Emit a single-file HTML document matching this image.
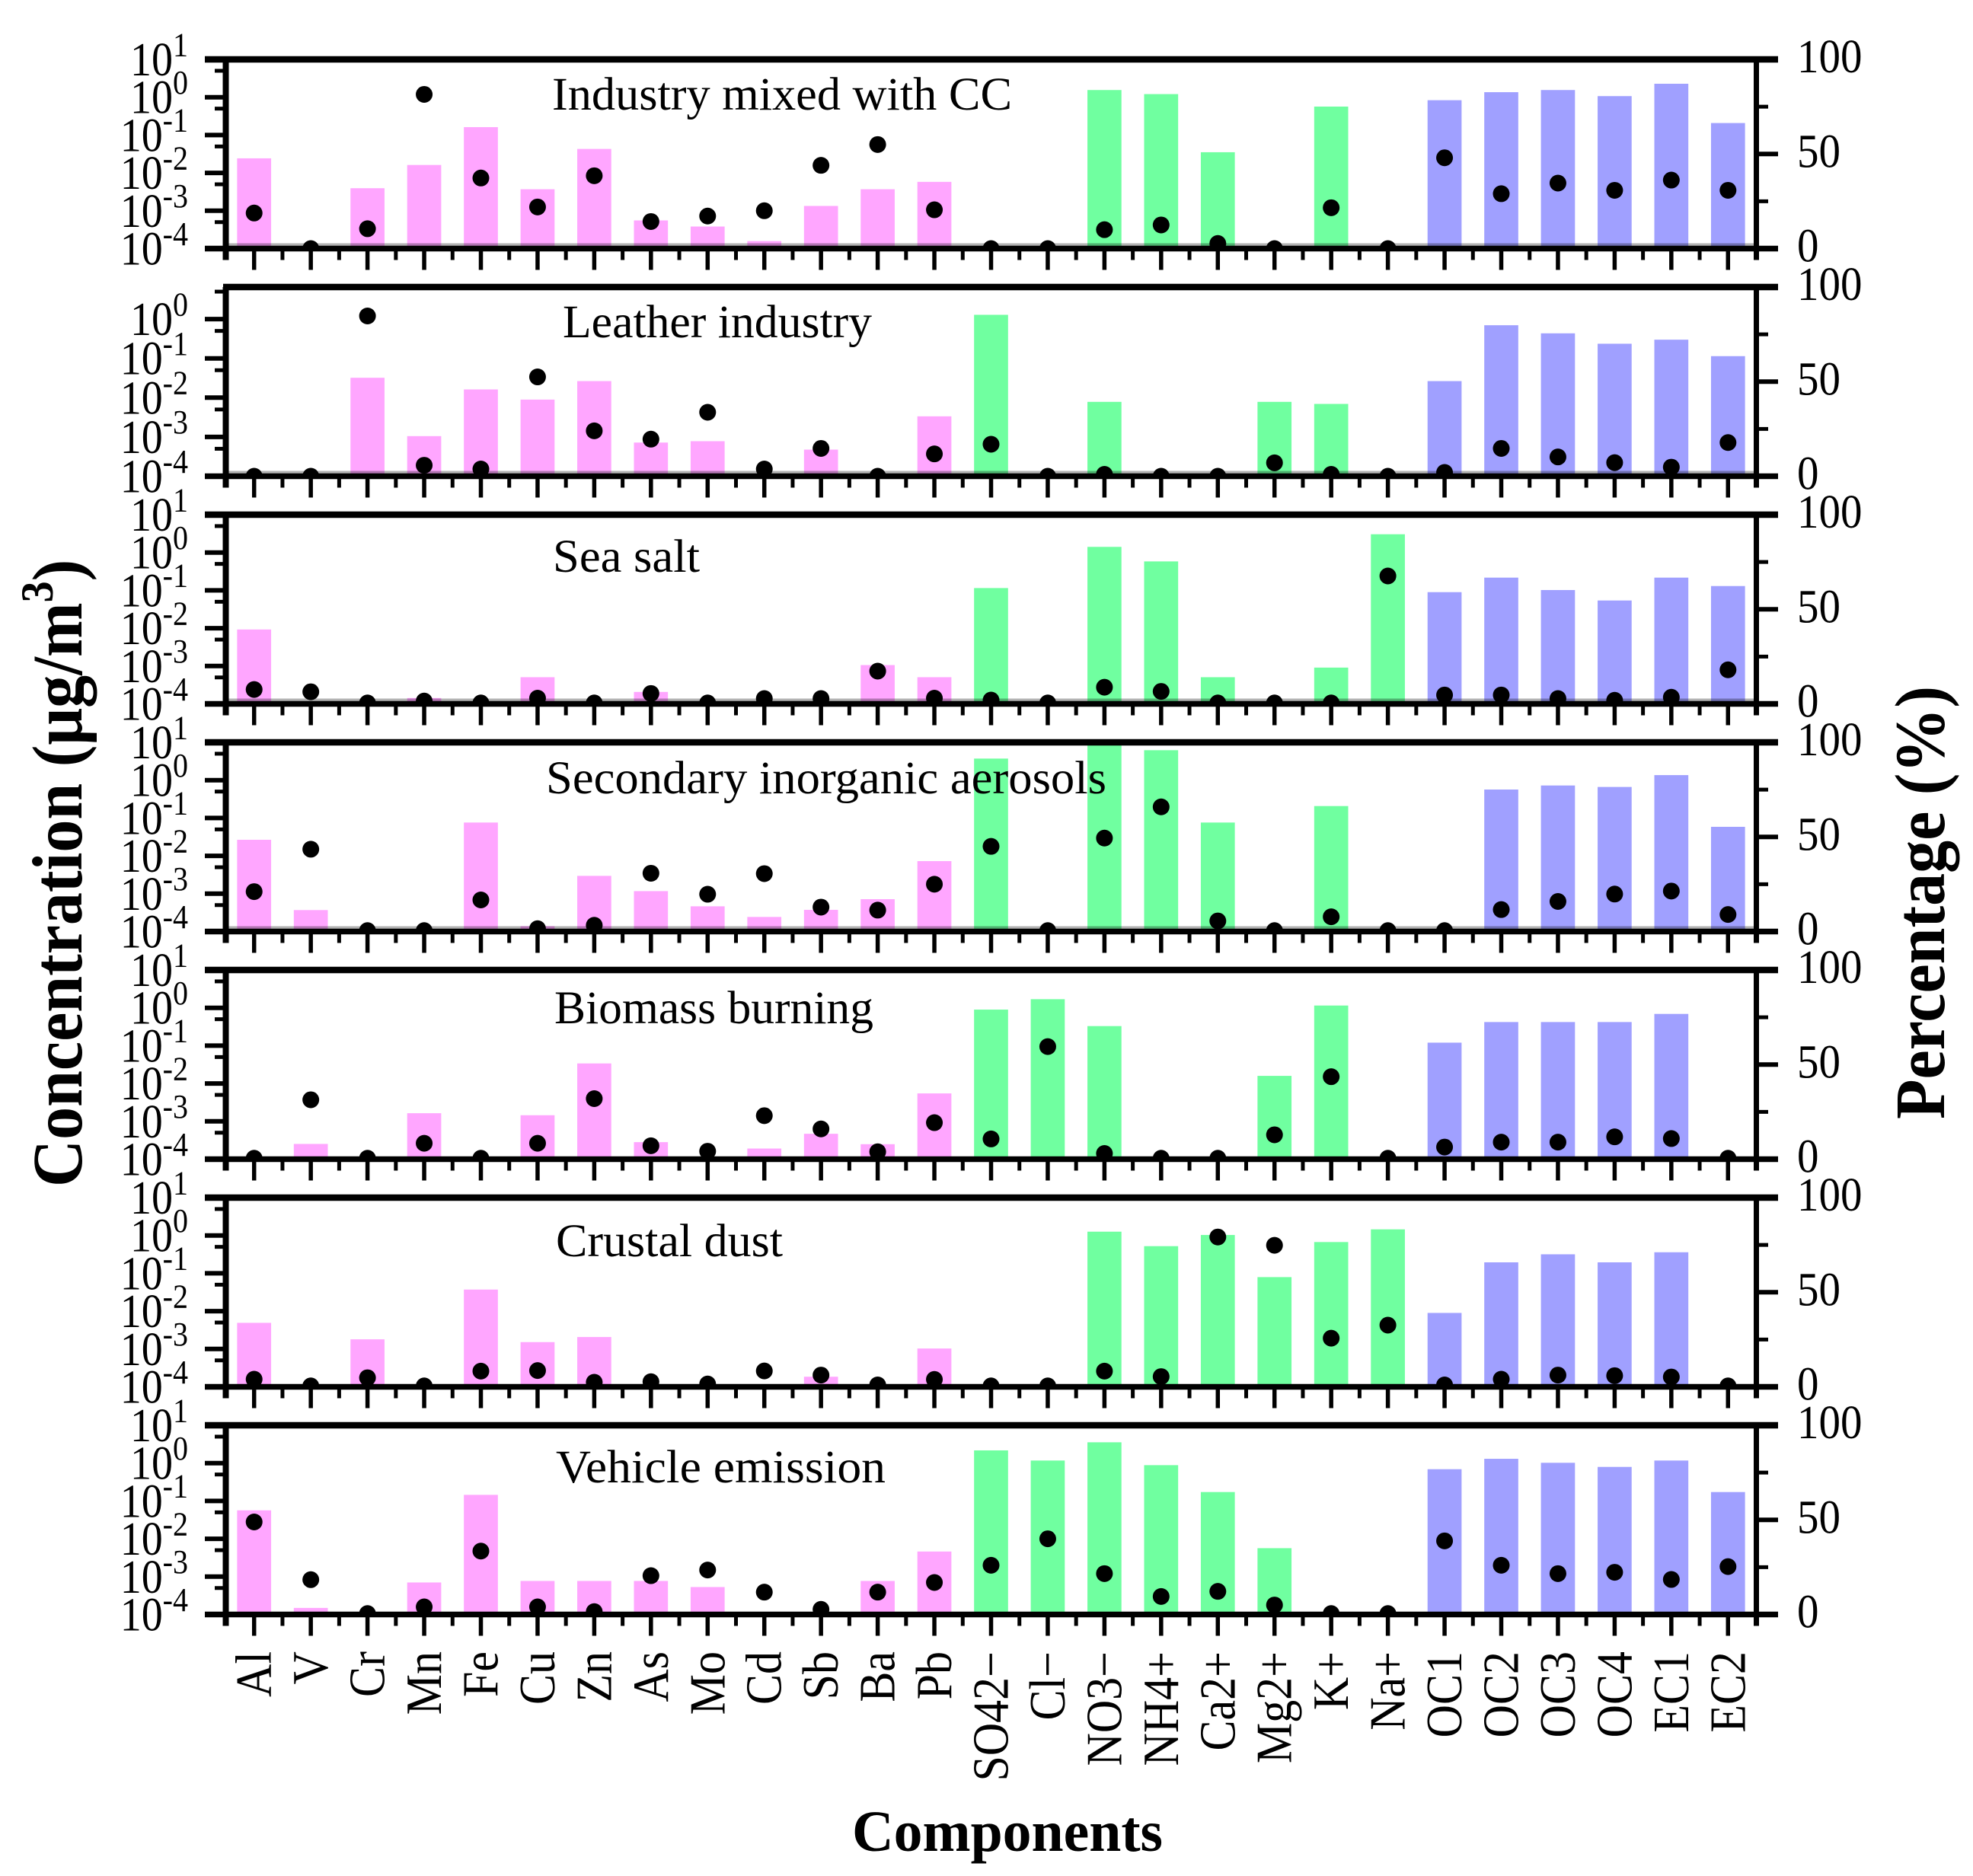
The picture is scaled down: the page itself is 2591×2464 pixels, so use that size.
<!DOCTYPE html>
<html lang="en">
<head>
<meta charset="utf-8">
<title>Source profiles: concentration and percentage by component</title>
<style>
html,body{margin:0;padding:0;background:#fff;}
svg{display:block;font-family:"Liberation Serif","DejaVu Serif",serif;}
text{fill:#000;}
</style>
</head>
<body>
<svg id="chart" xmlns="http://www.w3.org/2000/svg" width="2591" height="2464" viewBox="0 0 2591 2464">
<rect x="0" y="0" width="2591" height="2464" fill="#fff"/>
<g id="panels"></g>
<text x="725" y="144" font-size="61" textLength="604" lengthAdjust="spacingAndGlyphs">Industry mixed with CC</text>
<text x="739" y="443" font-size="61" textLength="406" lengthAdjust="spacingAndGlyphs">Leather industry</text>
<text x="726" y="751" font-size="61" textLength="193" lengthAdjust="spacingAndGlyphs">Sea salt</text>
<text x="717" y="1042" font-size="61" textLength="736" lengthAdjust="spacingAndGlyphs">Secondary inorganic aerosols</text>
<text x="728" y="1344" font-size="61" textLength="419" lengthAdjust="spacingAndGlyphs">Biomass burning</text>
<text x="730" y="1650" font-size="61" textLength="298" lengthAdjust="spacingAndGlyphs">Crustal dust</text>
<text x="730" y="1947" font-size="61" textLength="433" lengthAdjust="spacingAndGlyphs">Vehicle emission</text>
<text transform="translate(107,1559) rotate(-90) scale(1,1.08)" font-size="86" font-weight="bold">Concentration (μg/m<tspan font-size="56" dy="-35">3</tspan><tspan dy="35">)</tspan></text>
<text transform="translate(2553,1470) rotate(-90) scale(1,1.08)" font-size="86" font-weight="bold">Percentage (%)</text>
<text x="1119" y="2431" font-size="76" font-weight="bold" textLength="408" lengthAdjust="spacingAndGlyphs">Components</text>
</svg>
<script>
const categories = ["Al","V","Cr","Mn","Fe","Cu","Zn","As","Mo","Cd","Sb","Ba","Pb","SO42−","Cl−","NO3−","NH4+","Ca2+","Mg2+","K+","Na+","OC1","OC2","OC3","OC4","EC1","EC2"];
const groupEnd = [13, 21, 27];
const groupColors = ["#FFA6FF", "#70FFA0", "#A0A0FF"];

const concTickExps = [1, 0, -1, -2, -3, -4];
const concMinorExps = [0.699, -0.301, -1.301, -2.301, -3.301];
const pctTicks = [0, 50, 100];
const pctMinorTicks = [25, 75];
const axisMaxExp = [1, 0.816, 1, 1, 1, 1, 1];
const panelNames = ["industry","leather","sea-salt","secondary-inorganic","biomass","crustal-dust","vehicle"];

const industryConc = [0.0243,0,0.00394,0.0162,0.162,0.0037,0.043,0.000555,0.000383,0.000158,0.00134,0.0037,0.0058,0,0,1.55,1.21,0.0352,0,0.566,0,0.834,1.36,1.55,1.07,2.27,0.208];
const industryPct = [18.8,0,10.5,81.5,37.3,22,38.5,14.3,17.2,20,44,55,20.5,0,0,10,12.5,2.7,0,21.6,0,48,29,34.6,30.8,36.2,30.8];

const leatherConc = [0,0,0.0321,0.00105,0.0162,0.00893,0.0264,0.00072,0.00078,0,0.000476,0,0.00335,1.285,0,0.00782,0,0,0.00782,0.00693,0,0.0264,0.698,0.434,0.236,0.299,0.114];
const leatherPct = [0,0,84.7,5.8,3.8,52.5,24,19.6,33.8,3.8,14.7,0,11.8,16.9,0,1,0,0,7.1,1,0,2,14.7,10.2,7.2,4.8,17.8];

const seaSaltConc = [0.00925,0,0,0.000143,0,0.000507,0,0.000207,0,0,0,0.00106,0.000507,0.115,0,1.41,0.582,0.000507,0,0.00091,3.04,0.0897,0.217,0.102,0.054,0.217,0.13];
const seaSaltPct = [7.6,6.4,0.5,1.5,0.5,3,0.5,5.5,0.5,2.8,2.8,17.3,3,2,0.5,8.8,6.6,0.5,0.5,0.5,67.6,4.7,4.7,2.8,1.9,3.5,18];

const secondaryConc = [0.0266,0.000369,0,0,0.0759,0.000139,0.00296,0.00117,0.000464,0.000243,0.000374,0.000716,0.00726,3.72,0,10,6.2,0.0759,0,0.207,0,0,0.566,0.724,0.661,1.36,0.0585];
const secondaryPct = [21.1,43.5,0.5,0.5,16.7,1.5,3.3,30.8,19.7,30.6,12.9,11.3,25,45,0.5,49.4,65.9,5.6,0.5,7.8,0.5,0.5,11.6,15.9,19.8,21.4,9];

const biomassConc = [0,0.000253,0,0.00164,0,0.00145,0.0339,0.000282,0,0.000191,0.000469,0.000249,0.00547,0.897,1.69,0.329,0,0,0.0159,1.15,0,0.12,0.421,0.421,0.421,0.69,0];
const biomassPct = [0.5,31.4,0.5,8.4,0.5,8.4,32,7.1,4.2,23,16,3.9,19.3,10.7,59.5,3,0.5,0.5,12.9,43.6,0.5,6.4,9,9,11.8,10.9,0.5];

const crustalConc = [0.00491,0,0.0018,0,0.0372,0.00152,0.00207,0,0,0,0.000185,0,0.00103,0,0,1.26,0.522,1.03,0.0793,0.67,1.45,0.00897,0.195,0.318,0.195,0.36,0];
const crustalPct = [4,0.5,4.8,0.5,8.3,8.6,2.4,2.7,1.5,8.4,6.2,1,3.9,0.5,0.5,8.3,5.4,79.2,74.8,25.7,32.6,1,4,6.2,5.9,5.2,0.5];

const vehicleConc = [0.0565,0.000149,0,0.000701,0.145,0.000769,0.000769,0.000769,0.000531,0,0,0.000769,0.00461,2.17,1.17,3.55,0.883,0.172,0.00565,0,0,0.69,1.3,1.02,0.793,1.17,0.172];
const vehiclePct = [48.9,18.4,0.5,4,33.5,4,1.5,20.5,23.5,11.8,2.7,11.8,16.9,26,40,21.6,9.5,12.2,5,0.5,0.5,38.9,26,21.6,22.3,18.5,25.3];

const concSeries = [industryConc, leatherConc, seaSaltConc, secondaryConc, biomassConc, crustalConc, vehicleConc];
const pctSeries = [industryPct, leatherPct, seaSaltPct, secondaryPct, biomassPct, crustalPct, vehiclePct];

const NS = "http://www.w3.org/2000/svg";
const PLOT_LEFT = 296.5, PLOT_RIGHT = 2306.5, PANEL_TOP = 78, PANEL_STEP = 299, PANEL_H = 248.5;
const STEP = (PLOT_RIGHT - PLOT_LEFT) / categories.length;
const MIN_EXP = -4;

function make(tag, attrs, parent, content) {
  const el = document.createElementNS(NS, tag);
  for (const k in attrs) el.setAttribute(k, attrs[k]);
  if (content !== undefined) el.textContent = content;
  parent.appendChild(el);
  return el;
}
function panelTop(p) { return PANEL_TOP + PANEL_STEP * p; }
function panelBottom(p) { return panelTop(p) + PANEL_H; }
function xPos(i) { return PLOT_LEFT + STEP * (i + 0.5); }
function yLog(exp, p) { return panelBottom(p) - (exp - MIN_EXP) / (axisMaxExp[p] - MIN_EXP) * PANEL_H; }
function yConc(v, p) { return yLog(Math.log10(v), p); }
function yPct(v, p) { return panelBottom(p) - v / 100 * PANEL_H; }
function colorFor(i) { for (let g = 0; g < groupEnd.length; g++) { if (i < groupEnd[g]) return groupColors[g]; } return groupColors[groupColors.length - 1]; }

const root = document.getElementById("panels");

concSeries.forEach(function (conc, p) {
  const g = make("g", {}, root);
  
  
  const top = panelTop(p), bottom = panelBottom(p);

  const cp = make("clipPath", { id: "clip-" + p }, g);
  make("rect", { x: PLOT_LEFT, y: top, width: PLOT_RIGHT - PLOT_LEFT, height: PANEL_H }, cp);

  conc.forEach(function (v, i) {
    if (v <= Math.pow(10, MIN_EXP)) return;
    const y = Math.max(yConc(v, p), top);
    const bar = make("rect", { x: xPos(i) - STEP * 0.3, y: y, width: STEP * 0.6, height: bottom - y, fill: colorFor(i) }, g);
    
    
  });

  if (p < 4) {
    const shade = make("rect", { x: PLOT_LEFT, y: bottom - 7, width: PLOT_RIGHT - PLOT_LEFT, height: 4, fill: "#000", "fill-opacity": 0.3 }, g);
    
    
  }

  const dots = make("g", { "clip-path": "url(#clip-" + p + ")" }, g);
  
  
  pctSeries[p].forEach(function (v, i) {
    const dot = make("circle", { cx: xPos(i), cy: yPct(v, p), r: 11, fill: "#000" }, dots);
    
    
  });

  const axes = make("g", { stroke: "#000", fill: "none" }, g);
  
  

  const topX = axisMaxExp[p] >= 1 ? 269 : 293;
  make("line", { x1: topX, x2: 2335, y1: top, y2: top, "stroke-width": 8.5 }, axes);
  make("line", { x1: 269, x2: 2335, y1: bottom, y2: bottom, "stroke-width": 7.5 }, axes);
  make("line", { x1: PLOT_LEFT, x2: PLOT_LEFT, y1: top, y2: bottom + 15, "stroke-width": 8 }, axes);
  make("line", { x1: PLOT_RIGHT, x2: PLOT_RIGHT, y1: top, y2: bottom + 15, "stroke-width": 7 }, axes);

  categories.forEach(function (c, i) {
    make("line", { x1: xPos(i), x2: xPos(i), y1: bottom, y2: bottom + 28, "stroke-width": 5.5 }, axes);
    if (i > 0) make("line", { x1: xPos(i) - STEP / 2, x2: xPos(i) - STEP / 2, y1: bottom, y2: bottom + 15, "stroke-width": 5 }, axes);
  });

  concMinorExps.forEach(function (e) {
    if (e > axisMaxExp[p]) return;
    const y = yLog(e, p);
    make("line", { x1: 282, x2: PLOT_LEFT, y1: y, y2: y, "stroke-width": 5 }, axes);
  });

  concTickExps.forEach(function (e) {
    if (e > axisMaxExp[p]) return;
    const y = yLog(e, p);
    make("line", { x1: 269, x2: PLOT_LEFT, y1: y, y2: y, "stroke-width": 6 }, axes);
    const label = make("text", { transform: "translate(247," + (y + 21) + ") scale(1,1.12)", "font-size": 56, "text-anchor": "end" }, g);
    
    
    make("tspan", {}, label, "10");
    make("tspan", { "font-size": 40, dy: -23 }, label, String(e));
  });

  pctMinorTicks.forEach(function (t) {
    const y = yPct(t, p);
    make("line", { x1: PLOT_RIGHT, x2: 2322, y1: y, y2: y, "stroke-width": 5 }, axes);
  });

  pctTicks.forEach(function (t) {
    const y = yPct(t, p);
    make("line", { x1: PLOT_RIGHT, x2: 2335, y1: y, y2: y, "stroke-width": 6 }, axes);
    const label = make("text", { transform: "translate(2360," + (y + 17) + ") scale(1,1.1)", "font-size": 57 }, g, String(t));
    
    
  });
});

const xLabels = make("g", {}, root);


categories.forEach(function (c, i) {
  const t = make("text", { transform: "translate(" + (xPos(i) + 22) + ",2169) rotate(-90) scale(1,1.12)", "font-size": 60, "text-anchor": "end" }, xLabels, c);
  
  
});
</script>
</body>
</html>
